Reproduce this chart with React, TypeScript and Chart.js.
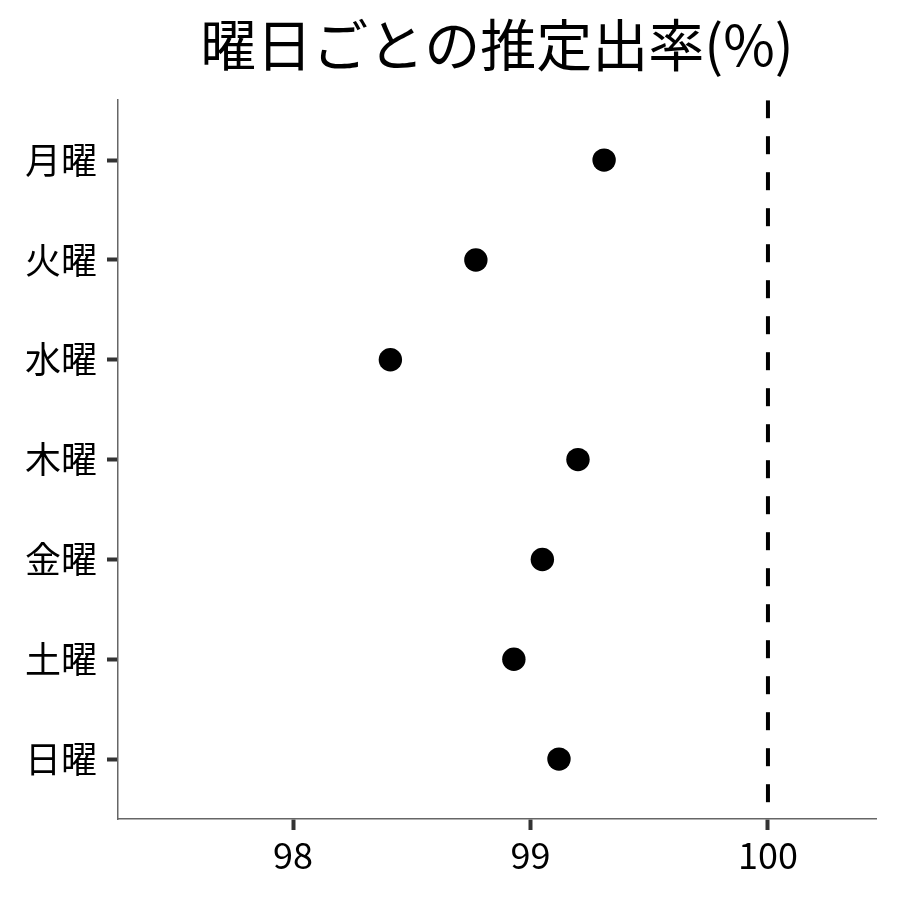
import React, { useEffect, useRef } from "react";
import { Chart, registerables } from "chart.js";

Chart.register(...registerables);

const TITLE = "曜日ごとの推定出率(%)";
const DAYS = ["月曜", "火曜", "水曜", "木曜", "金曜", "土曜", "日曜"];
const RATES = [99.31, 98.77, 98.41, 99.2, 99.05, 98.93, 99.12];
const X_TICKS = [98, 99, 100];
const REFERENCE_VALUE = 100;
const X_MIN = 97.263;
const X_MAX = 100.455;

const FONT = "'Noto Sans CJK JP', 'Noto Sans', sans-serif";

export default function App() {
  const ref = useRef<HTMLCanvasElement | null>(null);

  useEffect(() => {
    if (!ref.current) return;
    const yMin = -0.6;
    const yMax = DAYS.length - 1 + 0.6;
    const chart = new Chart(ref.current, {
      type: "scatter",
      data: {
        datasets: [
          {
            type: "line",
            data: [
              { x: REFERENCE_VALUE, y: yMin },
              { x: REFERENCE_VALUE, y: yMax },
            ],
            borderColor: "#000",
            borderWidth: 4,
            borderDash: [18, 18],
            borderCapStyle: "butt",
            pointRadius: 0,
            fill: false,
          },
          {
            data: RATES.map((v, i) => ({ x: v, y: i })),
            backgroundColor: "#000",
            borderWidth: 0,
            pointRadius: 11.7,
          },
        ],
      },
      options: {
        responsive: false,
        animation: false,
        layout: { padding: { left: 0, right: 24, top: 0, bottom: 0 } },
        plugins: {
          legend: { display: false },
          tooltip: { enabled: false },
          title: {
            display: true,
            fullSize: false,
            text: TITLE,
            color: "#000",
            font: { family: FONT, size: 56, weight: "normal", lineHeight: 1.2 },
            padding: { top: 11, bottom: 22 },
          },
        },
        scales: {
          x: {
            type: "linear",
            min: X_MIN,
            max: X_MAX,
            afterBuildTicks: (s: any) => {
              s.ticks = X_TICKS.map((v) => ({ value: v }));
            },
            afterFit: (s: any) => {
              s.height = 81;
            },
            ticks: {
              color: "#000",
              font: { family: FONT, size: 36 },
              padding: 4,
              callback: (v: any) => String(v),
            },
            grid: {
              display: true,
              drawOnChartArea: false,
              drawTicks: true,
              tickLength: 11,
              tickWidth: 4,
              tickColor: "#333",
            },
            border: { display: true, color: "#666", width: 1.5 },
          },
          y: {
            type: "linear",
            min: yMin,
            max: yMax,
            reverse: true,
            afterBuildTicks: (s: any) => {
              s.ticks = DAYS.map((_, i) => ({ value: i }));
            },
            afterFit: (s: any) => {
              s.width = 118;
            },
            ticks: {
              color: "#000",
              font: { family: FONT, size: 36 },
              padding: 10,
              callback: (v: any) => DAYS[Math.round(Number(v))] ?? "",
            },
            grid: {
              display: true,
              drawOnChartArea: false,
              drawTicks: true,
              tickLength: 11,
              tickWidth: 4,
              tickColor: "#333",
            },
            border: { display: true, color: "#666", width: 1.5 },
          },
        },
      },
    } as any);
    return () => chart.destroy();
  }, []);

  return (
    <div style={{ position: "fixed", left: 0, top: 0, width: 900, height: 900, background: "#fff" }}>
      <canvas ref={ref} width={900} height={900} style={{ width: 900, height: 900 }} />
    </div>
  );
}
